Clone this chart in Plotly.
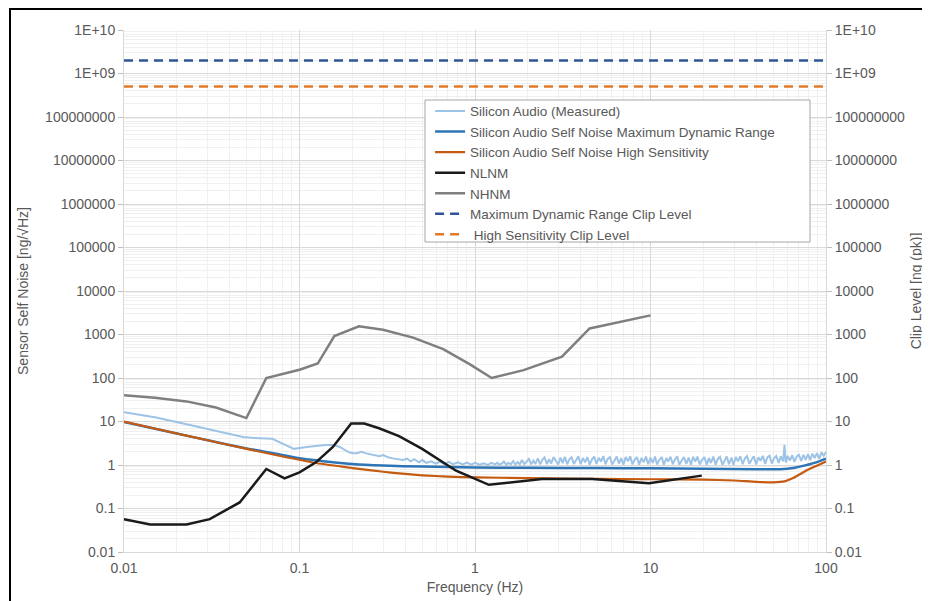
import plotly.graph_objects as go

# ---------------- data ----------------
measured_f = [0.01, 0.015, 0.0224, 0.032, 0.0477, 0.055, 0.07, 0.08, 0.093, 0.11, 0.124, 0.14, 0.155, 0.17,
              0.185, 0.195, 0.21, 0.225, 0.24, 0.26, 0.285, 0.30, 0.32, 0.34, 0.366, 0.39, 0.41, 0.43, 0.45,
              0.48, 0.50, 0.53, 0.56, 0.60, 0.63, 0.67, 0.71, 0.75, 0.80, 0.85, 0.90, 0.95, 1.0, 1.06, 1.12,
              1.18, 1.24,
              1.30, 1.34, 1.38, 1.42, 1.46, 1.51, 1.55, 1.60, 1.65, 1.70,
              1.75, 1.80, 1.85, 1.91, 1.97, 2.03, 2.09, 2.15, 2.21, 2.28,
              2.35, 2.42, 2.49, 2.57, 2.64, 2.72, 2.80, 2.89, 2.98, 3.07,
              3.16, 3.25, 3.35, 3.45, 3.55, 3.66, 3.77, 3.88, 4.00, 4.12,
              4.24, 4.37, 4.50, 4.64, 4.78, 4.92, 5.07, 5.22, 5.38, 5.54,
              5.70, 5.87, 6.05, 6.23, 6.42, 6.61, 6.81, 7.01, 7.22, 7.44,
              7.66, 7.89, 8.13, 8.37, 8.62, 8.88, 9.15, 9.42, 9.70, 10.0,
              10.3, 10.6, 10.9, 11.2, 11.6, 11.9, 12.3, 12.6, 13.0, 13.4,
              13.8, 14.2, 14.6, 15.1, 15.5, 16.0, 16.5, 17.0, 17.5, 18.0,
              18.5, 19.1, 19.7, 20.3, 20.9, 21.5, 22.1, 22.8, 23.5, 24.2,
              24.9, 25.7, 26.4, 27.2, 28.0, 28.9, 29.7, 30.6, 31.5, 32.5,
              33.5, 34.5, 35.5, 36.6, 37.7, 38.8, 40.0, 41.2, 42.4, 43.7,
              45.0, 46.3, 47.7, 49.1, 50.6, 52.1, 53.7, 55.3, 57.0, 58.0,
              59.0, 60.5, 62.3, 64.2, 66.1, 68.1, 70.1, 72.2, 74.4, 76.6,
              78.9, 81.3, 83.7, 86.2, 88.8, 91.5, 94.2, 97.0, 100]
measured_v = [16.4, 12.5, 8.8, 6.3, 4.4, 4.2, 4.0, 3.1, 2.35, 2.6, 2.8, 2.9, 2.9, 2.6,
              2.1, 1.9, 1.85, 2.0, 1.85, 1.7, 1.6, 1.7, 1.5, 1.42, 1.38, 1.30, 1.40, 1.22, 1.36,
              1.15, 1.30, 1.12, 1.22, 1.08, 1.20, 1.05, 1.18, 1.04, 1.15, 1.03, 1.14, 1.02, 1.12, 1.02, 1.10,
              1.00, 1.12,
              1.03, 1.12, 1.02, 1.08, 1.20, 1.01, 1.12, 1.04, 1.24, 1.03,
              1.16, 1.04, 1.30, 1.05, 1.18, 1.38, 1.04, 1.26, 1.06, 1.42,
              1.04, 1.32, 1.50, 1.05, 1.36, 1.08, 1.52, 1.22, 1.03, 1.48,
              1.10, 1.55, 1.04, 1.35, 1.50, 1.06, 1.28, 1.58, 1.04, 1.45,
              1.15, 1.52, 1.02, 1.35, 1.56, 1.06, 1.46, 1.20, 1.60, 1.04,
              1.38, 1.52, 1.03, 1.28, 1.56, 1.08, 1.44, 1.02, 1.52, 1.22,
              1.58, 1.04, 1.34, 1.52, 1.02, 1.44, 1.16, 1.56, 1.04, 1.48,
              1.12, 1.56, 1.03, 1.30, 1.52, 1.01, 1.45, 1.20, 1.55, 1.04,
              1.36, 1.58, 1.02, 1.28, 1.52, 1.06, 1.48, 1.01, 1.54, 1.20,
              1.56, 1.03, 1.34, 1.52, 1.00, 1.45, 1.12, 1.56, 1.02, 1.38,
              1.54, 1.01, 1.30, 1.57, 1.04, 1.48, 1.00, 1.52, 1.22, 1.58,
              1.04, 1.42, 1.60, 1.06, 1.34, 1.58, 1.03, 1.50, 1.25, 1.62,
              1.06, 1.50, 1.64, 1.08, 1.44, 1.60, 1.12, 1.58, 1.22, 2.90,
              1.15, 1.62, 1.26, 1.68, 1.18, 1.58, 1.72, 1.24, 1.70, 1.32,
              1.78, 1.30, 1.82, 1.45, 1.88, 1.40, 1.95, 1.62, 2.00]

mdr_f = [0.01, 0.02, 0.03, 0.05, 0.075, 0.1, 0.124, 0.15, 0.2, 0.3, 0.5, 1, 2, 5, 10, 20, 40, 55, 65, 76, 88, 100]
mdr_v = [9.8, 5.3, 3.7, 2.4, 1.8, 1.43, 1.28, 1.17, 1.05, 0.97, 0.92, 0.88, 0.86, 0.85, 0.84, 0.82, 0.80,
         0.80, 0.85, 0.98, 1.15, 1.4]

hs_f = [0.01, 0.02, 0.03, 0.05, 0.124, 0.2, 0.3, 0.37, 0.5, 0.7, 1, 2, 5, 10, 20, 30, 40, 50, 58, 65, 76, 88, 100]
hs_v = [10, 5.3, 3.7, 2.34, 1.11, 0.85, 0.70, 0.64, 0.58, 0.54, 0.52, 0.50, 0.48, 0.47, 0.46, 0.44, 0.41,
        0.40, 0.42, 0.50, 0.72, 0.95, 1.2]

nlnm_f = [0.01, 0.0141, 0.0227, 0.0308, 0.0456, 0.0647, 0.0822, 0.1, 0.124, 0.155, 0.197, 0.234, 0.284,
          0.369, 0.50, 0.78, 1.20, 2.41, 4.65, 9.8, 19.6]
nlnm_v = [0.057, 0.043, 0.043, 0.057, 0.138, 0.81, 0.49, 0.68, 1.15, 2.6, 9.0, 9.0, 7.0, 4.6, 2.34, 0.74,
          0.35, 0.475, 0.475, 0.38, 0.57]

nhnm_f = [0.01, 0.015, 0.0227, 0.0334, 0.0498, 0.0647, 0.1, 0.127, 0.158, 0.218, 0.299, 0.444, 0.659, 0.936,
          1.245, 1.89, 3.13, 4.5, 10]
nhnm_v = [40, 35, 29, 21, 12, 100, 155, 215, 920, 1550, 1280, 850, 460, 205, 100, 152, 310, 1380, 2750]

clip_f = [0.01, 100]
clip_mdr = [2e9, 2e9]
clip_hs = [5e8, 5e8]

ytick_vals = [1e10, 1e9, 1e8, 1e7, 1e6, 1e5, 1e4, 1e3, 1e2, 10, 1, 0.1, 0.01]
ytick_text = ["1E+10", "1E+09", "100000000", "10000000", "1000000", "100000", "10000", "1000", "100",
              "10", "1", "0.1", "0.01"]
xtick_vals = [0.01, 0.1, 1, 10, 100]
xtick_text = ["0.01", "0.1", "1", "10", "100"]

# ---------------- figure ----------------
FONT = "Liberation Sans, Arial, sans-serif"
TXT = "#595959"
W, H = 922, 593          # page body has an 8px margin
ML, MT, PW, PH = 116, 22, 702, 522

fig = go.Figure()
fig.add_trace(go.Scatter(x=measured_f, y=measured_v, name="Silicon Audio (Measured)", mode="lines",
                         line=dict(color="#9DC3E6", width=2.0)))
fig.add_trace(go.Scatter(x=mdr_f, y=mdr_v, name="Silicon Audio Self Noise Maximum Dynamic Range", mode="lines",
                         line=dict(color="#2E75B6", width=2.5, shape="spline", smoothing=0.6)))
fig.add_trace(go.Scatter(x=hs_f, y=hs_v, name="Silicon Audio Self Noise High Sensitivity", mode="lines",
                         line=dict(color="#C55A11", width=2.2, shape="spline", smoothing=0.6)))
fig.add_trace(go.Scatter(x=nlnm_f, y=nlnm_v, name="NLNM", mode="lines",
                         line=dict(color="#1a1a1a", width=2.5)))
fig.add_trace(go.Scatter(x=nhnm_f, y=nhnm_v, name="NHNM", mode="lines",
                         line=dict(color="#7F7F7F", width=2.5)))
fig.add_trace(go.Scatter(x=clip_f, y=clip_mdr, name="Maximum Dynamic Range Clip Level", mode="lines",
                         yaxis="y2", line=dict(color="#2F5597", width=2.5, dash="9px,6px")))
fig.add_trace(go.Scatter(x=clip_f, y=clip_hs, name=" High Sensitivity Clip Level", mode="lines",
                         yaxis="y2", line=dict(color="#E07B2C", width=2.5, dash="9px,6px")))

grid_major = "#d9d9d9"
grid_minor = "#f0f0f0"

fig.update_layout(
    width=W, height=H,
    margin=dict(l=ML, r=W - ML - PW, t=MT, b=H - MT - PH, autoexpand=False),
    paper_bgcolor="white", plot_bgcolor="white",
    font=dict(family=FONT, size=14, color=TXT),
    showlegend=True,
    legend=dict(x=0.436, y=0.874, xanchor="left", yanchor="top", bgcolor="rgba(0,0,0,0)",
                borderwidth=0, font=dict(size=13.5, color=TXT), tracegroupgap=0),
    xaxis=dict(type="log", range=[-2, 2], tickvals=xtick_vals, ticktext=xtick_text,
               showgrid=True, gridcolor=grid_major, gridwidth=1,
               minor=dict(dtick="D1", showgrid=True, gridcolor=grid_minor, ticks=""),
               showline=True, linecolor=grid_major, ticks="", zeroline=False, ticklabelstandoff=3,
               title=dict(text="Frequency (Hz)", font=dict(size=14, color=TXT), standoff=7)),
    yaxis=dict(type="log", range=[-2, 10], tickvals=ytick_vals, ticktext=ytick_text,
               showgrid=True, gridcolor=grid_major, gridwidth=1,
               minor=dict(dtick="D1", showgrid=True, gridcolor=grid_minor, ticks=""),
               showline=True, linecolor=grid_major, ticks="outside", ticklen=5, tickcolor="#bfbfbf",
               zeroline=False,
               title=dict(text="Sensor Self Noise [ng/√Hz]", font=dict(size=14, color=TXT), standoff=13)),
    yaxis2=dict(type="log", range=[-2, 10], overlaying="y", side="right", tickvals=ytick_vals,
                ticktext=ytick_text, showgrid=False, showline=True, linecolor=grid_major,
                ticks="outside", ticklen=5, tickcolor="#bfbfbf", zeroline=False,
                title=dict(text="Clip Level [ng (pk)]", font=dict(size=14, color=TXT), standoff=7)),
)

# legend box (drawn as a shape so its size matches the reference)
fig.add_shape(type="rect", xref="paper", yref="paper",
              x0=(417 - ML) / PW, x1=(802 - ML) / PW, y0=1 - (234 - MT) / PH, y1=1 - (92 - MT) / PH,
              line=dict(color="#a6a6a6", width=1), fillcolor="white", layer="above")

# outer frame of the picture (bottom edge lies outside the visible page)
fig.add_shape(type="rect", xref="paper", yref="paper",
              x0=(2 - ML) / PW, x1=(919 - ML) / PW, y0=(MT + PH - 600) / PH, y1=1 + (MT - 1) / PH,
              line=dict(color="black", width=2), fillcolor="rgba(0,0,0,0)", layer="above")

fig.write_html("out.html")
